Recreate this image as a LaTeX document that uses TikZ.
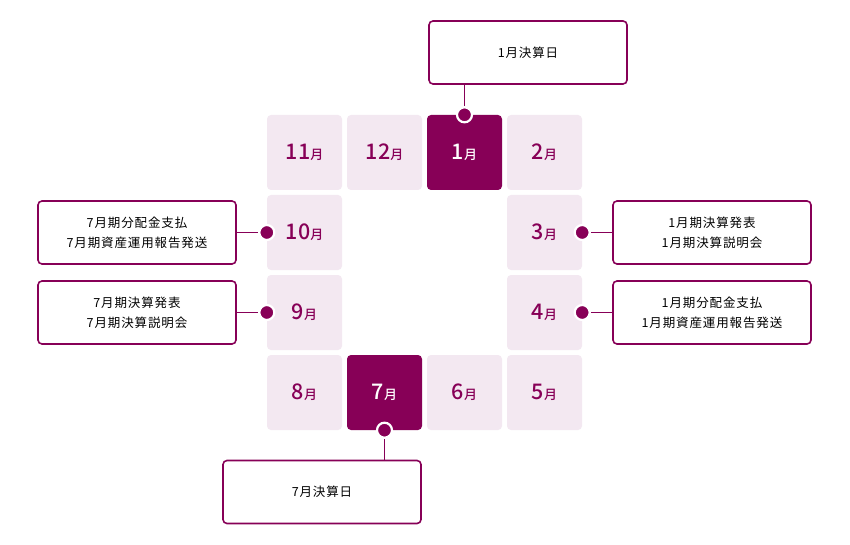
\documentclass[tikz,border=0pt]{standalone}
\usepackage{fontspec}
\setmainfont{Noto Sans CJK JP}
\newfontfamily\numfont{Noto Sans CJK JP Medium}
\definecolor{pr}{HTML}{870057}
\definecolor{lt}{HTML}{F3E8F1}
\newcommand\mnum[1]{\numfont{\fontsize{21.5}{21.5}\selectfont #1}{\fontsize{13}{13}\selectfont 月}}
\tikzset{
  tile/.style={minimum size=75pt, inner sep=0pt, rounded corners=4pt, fill=lt, text=pr},
  darktile/.style={tile, fill=pr, text=white},
  infobox/.style={draw=pr, line width=1.6pt, rounded corners=4pt, fill=white, minimum width=198pt, minimum height=63pt, inner sep=0pt, align=center, font=\fontsize{12.5}{20}\selectfont\addfontfeature{LetterSpace=7}, text=black},
  dot/.style={circle, fill=pr, draw=white, line width=2.2pt, minimum size=15pt, inner sep=0pt},
  conn/.style={draw=pr, line width=1pt}
}
\begin{document}
\begin{tikzpicture}[x=1pt,y=-1pt]
\useasboundingbox[fill=white] (0,0) rectangle (850,545);
% tiles
\node[tile] (m11) at (304.5,152.5) {\mnum{11}};
\node[tile] (m12) at (384.5,152.5) {\mnum{12}};
\node[darktile] (m1) at (464.5,152.5) {\mnum{1}};
\node[tile] (m2) at (544.5,152.5) {\mnum{2}};
\node[tile] (m10) at (304.5,232.5) {\mnum{10}};
\node[tile] (m3) at (544.5,232.5) {\mnum{3}};
\node[tile] (m9) at (304.5,312.5) {\mnum{9}};
\node[tile] (m4) at (544.5,312.5) {\mnum{4}};
\node[tile] (m8) at (304.5,392.5) {\mnum{8}};
\node[darktile] (m7) at (384.5,392.5) {\mnum{7}};
\node[tile] (m6) at (464.5,392.5) {\mnum{6}};
\node[tile] (m5) at (544.5,392.5) {\mnum{5}};
% info boxes
\node[infobox] (top) at (528,52.5) {1月決算日};
\node[infobox] (bot) at (322,492) {7月決算日};
\node[infobox] (l1) at (137,232.5) {7月期分配金支払\\7月期資産運用報告発送};
\node[infobox] (l2) at (137,312.5) {7月期決算発表\\7月期決算説明会};
\node[infobox] (r1) at (712,232.5) {1月期決算発表\\1月期決算説明会};
\node[infobox] (r2) at (712,312.5) {1月期分配金支払\\1月期資産運用報告発送};
% dots
\coordinate (c1) at (m1.north);
\coordinate (c7) at (m7.south);
\coordinate (c10) at (m10.west);
\coordinate (c9) at (m9.west);
\coordinate (c3) at (m3.east);
\coordinate (c4) at (m4.east);
\draw[conn] (top.south -| c1) -- (c1);
\draw[conn] (bot.north -| c7) -- (c7);
\draw[conn] (l1.east) -- (c10);
\draw[conn] (l2.east) -- (c9);
\draw[conn] (r1.west) -- (c3);
\draw[conn] (r2.west) -- (c4);
\node[dot] (d1) at (c1) {};
\node[dot] (d7) at (c7) {};
\node[dot] (d10) at (c10) {};
\node[dot] (d9) at (c9) {};
\node[dot] (d3) at (c3) {};
\node[dot] (d4) at (c4) {};
\end{tikzpicture}
\end{document}
